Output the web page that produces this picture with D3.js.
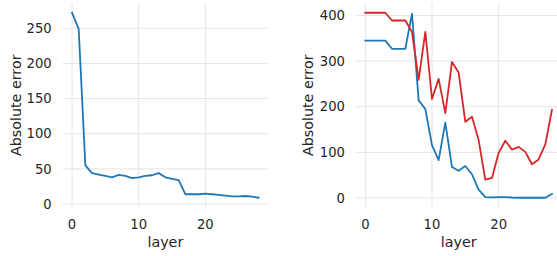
<!DOCTYPE html>
<html>
<head>
<meta charset="utf-8">
<script src="https://cdn.jsdelivr.net/npm/d3@7"></script>
<style>
  html, body { margin: 0; padding: 0; background: #fff; }
  svg text { font-family: "DejaVu Sans", sans-serif; fill: #262626; }
</style>
</head>
<body>
<svg id="chart" width="557" height="256"></svg>
<script>
const layers = d3.range(0, 29);

// left panel: single series
const leftErr = [272, 249, 55, 44, 42, 40, 38, 41.5, 40, 37, 38, 40, 41, 44, 38, 36, 34,
  14, 14, 14, 15, 14, 13, 12, 11, 11, 11.5, 10.5, 9];

// right panel: two series
const rightBlue = [345, 345, 345, 345, 327, 327, 327, 404, 214, 195, 116, 83, 165, 68, 59.5,
  70, 52, 18.5, 2, 1.5, 2, 2, 1, 0.5, 0.5, 0.5, 0.5, 0.5, 9];
const rightRed = [406, 406, 406, 406, 389, 389, 389, 364, 259, 364, 217, 261, 186, 298, 275,
  167, 178, 127, 40, 44, 99, 125.5, 106, 112, 101, 74, 84.5, 117.5, 193];

const leftTicks = [0, 50, 100, 150, 200, 250];
const rightTicks = [0, 100, 200, 300, 400];
const xTicks = [0, 10, 20];

const blue = '#1f77b4', red = '#d62728';
const svg = d3.select('#chart');

function pad(ext) {
  const m = (ext[1] - ext[0]) * 0.05;
  return [ext[0] - m, ext[1] + m];
}

function panel(opts) {
  const top = 3.5, bottom = 207;
  const x = d3.scaleLinear().domain(pad([0, 28])).range([opts.left, opts.left + 205.3]);
  const all = opts.series.flatMap(s => s.values);
  const y = d3.scaleLinear().domain(pad(d3.extent(all))).range([bottom, top]);

  const g = svg.append('g');

  // grid
  g.append('g').selectAll('line').data(opts.yTicks).enter().append('line')
    .attr('x1', x.range()[0]).attr('x2', x.range()[1])
    .attr('y1', d => y(d)).attr('y2', d => y(d))
    .attr('stroke', '#e5e5e5').attr('stroke-width', 1);
  g.append('g').selectAll('line').data(xTicks).enter().append('line')
    .attr('y1', top).attr('y2', bottom)
    .attr('x1', d => x(d)).attr('x2', d => x(d))
    .attr('stroke', '#e5e5e5').attr('stroke-width', 1);

  // tick labels
  g.append('g').selectAll('text').data(opts.yTicks).enter().append('text')
    .attr('x', x.range()[0] - 11).attr('y', d => y(d))
    .attr('dy', '0.36em')
    .attr('text-anchor', 'end')
    .style('font-size', '13.2px')
    .text(d => d);
  g.append('g').selectAll('text').data(xTicks).enter().append('text')
    .attr('x', d => x(d)).attr('y', 229.3)
    .attr('text-anchor', 'middle')
    .style('font-size', '13.2px')
    .text(d => d);

  // axis labels
  g.append('text')
    .attr('x', (x.range()[0] + x.range()[1]) / 2).attr('y', 246.5)
    .attr('text-anchor', 'middle')
    .style('font-size', '14.3px')
    .text('layer');
  g.append('text')
    .attr('transform', `translate(${opts.ylabelX},${(top + bottom) / 2}) rotate(-90)`)
    .attr('text-anchor', 'middle')
    .style('font-size', '14.3px')
    .text('Absolute error');

  const line = d3.line().x((d, i) => x(layers[i])).y(d => y(d));
  opts.series.forEach(s => {
    g.append('path')
      .datum(s.values)
      .attr('d', line)
      .attr('fill', 'none')
      .attr('stroke', s.color)
      .attr('stroke-width', 1.8)
      .attr('stroke-linejoin', 'round')
      .attr('stroke-linecap', 'square');
  });
}

panel({ left: 62.7, ylabelX: 20.5, yTicks: leftTicks,
  series: [{ values: leftErr, color: blue }] });
panel({ left: 356, ylabelX: 312.5, yTicks: rightTicks,
  series: [{ values: rightBlue, color: blue }, { values: rightRed, color: red }] });
</script>
</body>
</html>
